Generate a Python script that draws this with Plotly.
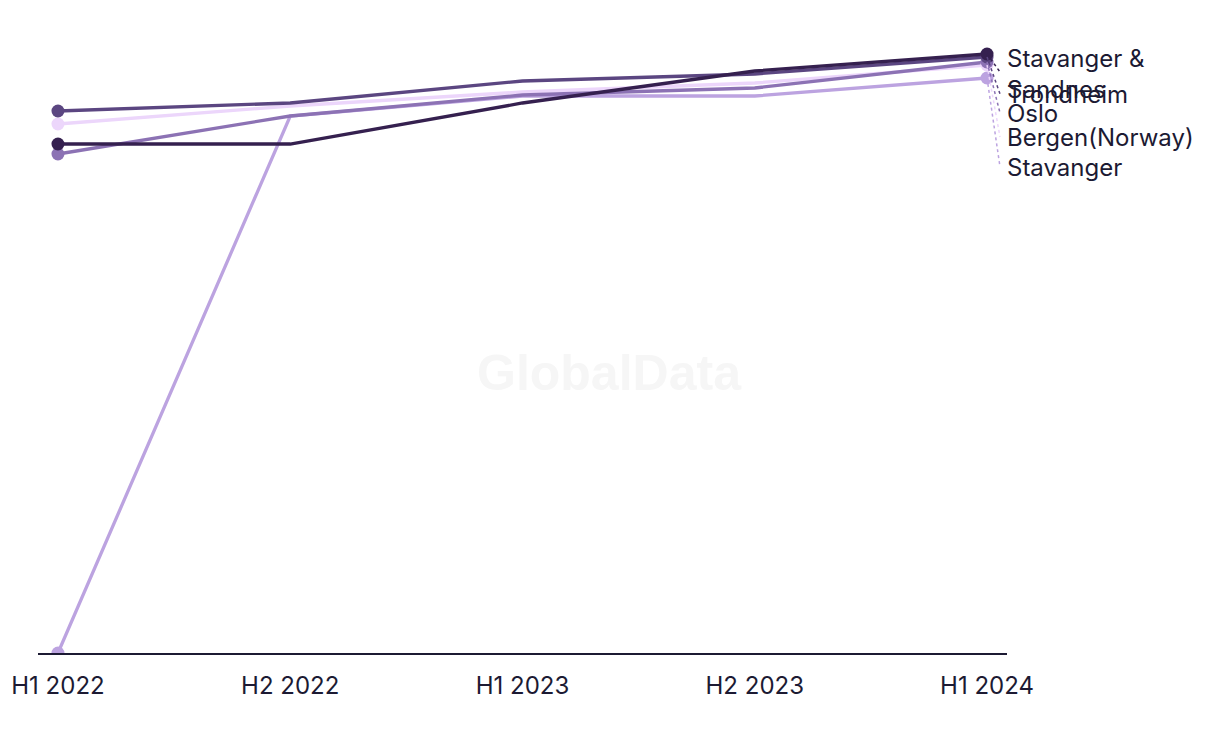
import plotly.graph_objects as go

periods = ["H1 2022", "H2 2022", "H1 2023", "H2 2023", "H1 2024"]
series_names = ["Stavanger", "Bergen(Norway)", "Oslo", "Trondheim", "Stavanger & Sandnes"]
stavanger = [0.0, 53.7, 55.7, 55.7, 57.5]
bergen = [52.9, 54.7, 56.1, 57.0, 58.8]
oslo = [49.9, 53.7, 55.8, 56.5, 59.1]
trondheim = [54.2, 55.0, 57.2, 57.9, 59.6]
stav_sandnes = [50.9, 50.9, 55.0, 58.2, 59.9]

values = [stavanger, bergen, oslo, trondheim, stav_sandnes]
colors = ["#bca3e0", "#ecd6fb", "#8c72b4", "#5b4681", "#35204f"]
label_text = ["Stavanger", "Bergen(Norway)", "Oslo", "Trondheim", "Stavanger &<br>Sandnes"]
# pixel position of label centre below its end point (layout styling)
label_drop = [89, 72, 51, 37, 18]
label_extra = [0, 0, 0, 0, -2]

FONT = "Inter"
TXT = "#1c1a33"

fig = go.Figure()
xi = list(range(len(periods)))
for name, vals, col in zip(series_names, values, colors):
    fig.add_trace(go.Scatter(
        x=xi, y=vals, mode="lines", name=name,
        line=dict(color=col, width=3.3), hoverinfo="skip", showlegend=False))
for name, vals, col in zip(series_names, values, colors):
    fig.add_trace(go.Scatter(
        x=[xi[0], xi[-1]], y=[vals[0], vals[-1]], mode="markers",
        marker=dict(color=col, size=13), showlegend=False, hoverinfo="skip"))

for vals, col, txt, drop, extra in zip(values, colors, label_text, label_drop, label_extra):
    fig.add_shape(type="line", xref="x", yref="y",
                  xsizemode="pixel", xanchor=xi[-1], x0=0, x1=13,
                  ysizemode="pixel", yanchor=vals[-1], y0=0, y1=-drop,
                  line=dict(color=col, width=1.5, dash="dot"))
    fig.add_annotation(x=xi[-1], y=vals[-1], xref="x", yref="y", text=txt,
                       showarrow=False, xanchor="left", yanchor="middle",
                       xshift=18, yshift=-drop + extra,
                       align="left",
                       font=dict(family=FONT, size=24, color=TXT))

fig.add_annotation(text="<b>GlobalData</b>", xref="paper", yref="paper",
                   x=0.59, y=0.452, showarrow=False,
                   font=dict(family="Liberation Sans", size=50, color="#f6f6f6"))

fig.update_layout(
    width=1220, height=744,
    margin=dict(l=30, r=221, t=25, b=99, autoexpand=False),
    paper_bgcolor="white", plot_bgcolor="white",
    font=dict(family=FONT, size=24, color=TXT),
    xaxis=dict(range=[-0.086, 4.086], tickmode="array", tickvals=xi, ticktext=periods,
               showgrid=False, zeroline=False, showline=True, linecolor="#1c1a33",
               linewidth=2, ticks="", ticklabelstandoff=10, automargin=False,
               tickfont=dict(family=FONT, size=24, color=TXT)),
    yaxis=dict(range=[0, 62], visible=False, showgrid=False, zeroline=False,
               automargin=False),
)
fig.write_html("out.html")
